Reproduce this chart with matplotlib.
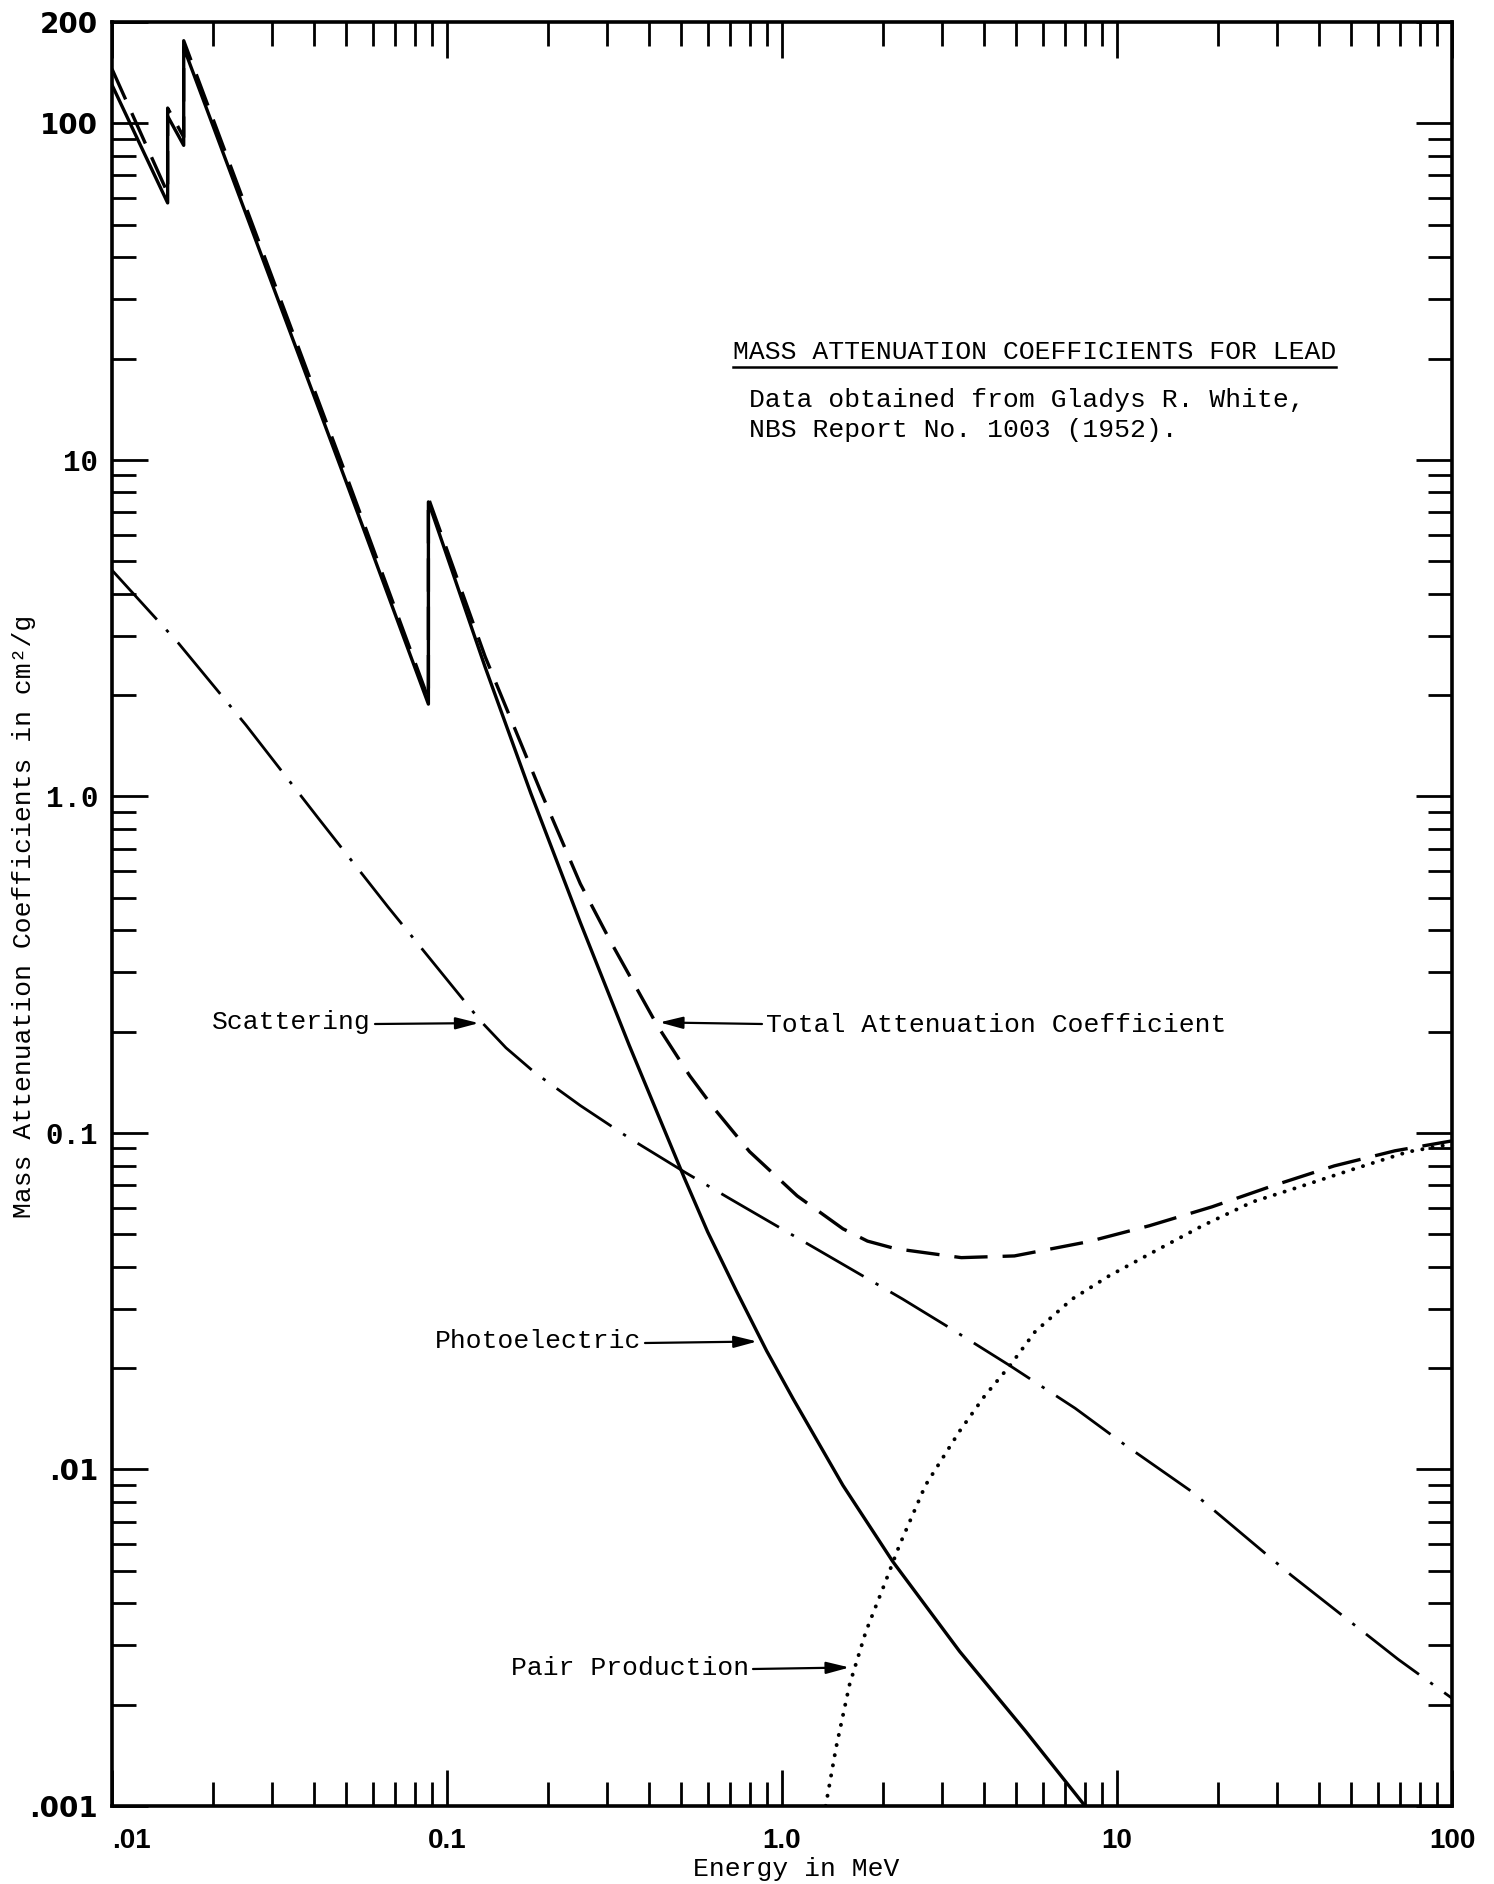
import matplotlib
matplotlib.use("Agg")
import matplotlib.pyplot as plt
from matplotlib.ticker import LogLocator, NullFormatter
from matplotlib.lines import Line2D

# ---------------- data ----------------
photo_E = [0.01, 0.01466, 0.01466, 0.01637, 0.01637, 0.05, 0.088, 0.088,
           0.13, 0.178, 0.25, 0.35, 0.511, 0.6, 0.73, 0.9, 1.08, 1.52, 2.14, 3.39, 5.33, 8.03]
photo_mu = [130, 58, 105, 86, 168, 8.6, 1.88, 7.5,
            2.42, 1.02, 0.422, 0.182, 0.0735, 0.0508, 0.034, 0.0225, 0.0162, 0.00897, 0.00533,
            0.00288, 0.00167, 0.001]

total_E = [0.01, 0.01466, 0.01466, 0.01637, 0.01637, 0.05, 0.088, 0.088,
           0.13, 0.19, 0.25, 0.308, 0.425, 0.53, 0.628, 0.8, 1.11, 1.52, 1.8, 2.18, 3.43, 4.94,
           8.2, 12.5, 19.2, 29.1, 44.5, 67.6, 100]
total_mu = [145, 62, 111, 91, 176, 9.0, 1.95, 7.7,
            2.6, 1.04, 0.55, 0.37, 0.208, 0.148, 0.118, 0.088, 0.065, 0.0519, 0.0477, 0.0453,
            0.0426, 0.0431, 0.0475, 0.0530, 0.0603, 0.0696, 0.0798, 0.0885, 0.0947]

scatter_E = [0.01, 0.0158, 0.0251, 0.0413, 0.0667, 0.1007, 0.126, 0.15, 0.183, 0.25, 0.353,
             0.511, 0.70, 1.60, 2.29, 3.08, 4.77, 7.50, 10.6, 16.7, 33.2, 69, 100]
scatter_mu = [4.7, 2.85, 1.63, 0.861, 0.469, 0.283, 0.215, 0.179, 0.151, 0.1206, 0.096,
              0.0766, 0.0637, 0.0395, 0.0321, 0.0268, 0.0204, 0.0152, 0.0118, 0.0086, 0.00484,
              0.00273, 0.00209]

pair_E = [1.35, 1.45, 1.59, 1.78, 2.0, 2.24, 2.68, 3.39, 4.02, 4.80, 5.70, 7.35, 9.47, 12.9,
          18.0, 25.4, 33.6, 51.1, 74, 100]
pair_mu = [0.001, 0.00149, 0.00229, 0.0033, 0.00443, 0.00594, 0.00897, 0.0130, 0.0165, 0.0204,
           0.0257, 0.0321, 0.0376, 0.0444, 0.0530, 0.0624, 0.0682, 0.0782, 0.0879, 0.0927]

x_ticks = [0.01, 0.1, 1, 10, 100]
x_labels = ['.01', '0.1', '1.0', '10', '100']
y_ticks = [0.001, 0.01, 0.1, 1, 10, 100, 200]
y_labels = ['.001', '.01', '0.1', '1.0', '10', '100', '200']

title_text = "MASS ATTENUATION COEFFICIENTS FOR LEAD"
source_lines = ["Data obtained from Gladys R. White,", "NBS Report No. 1003 (1952)."]

# ---------------- figure ----------------
W, H = 1494, 1884
DPI = 100
fig = plt.figure(figsize=(W / DPI, H / DPI), dpi=DPI, facecolor='white')

def fx(px):
    return px / W

def fy(py):
    return 1 - py / H

ax = fig.add_axes([fx(112), fy(1806), fx(1452) - fx(112), fy(22) - fy(1806)])
ax.set_xscale('log')
ax.set_yscale('log')
ax.set_xlim(0.01, 100)
ax.set_ylim(0.001, 200)

mono = ['Liberation Mono', 'DejaVu Sans Mono']

ax.plot(photo_E, photo_mu, color='black', lw=2.4, solid_joinstyle='round')
ax.plot(total_E, total_mu, color='black', lw=2.4, linestyle=(0, (10, 4.5)))
ax.plot(scatter_E, scatter_mu, color='black', lw=2.0, linestyle=(0, (24, 5, 1.2, 5)))
ax.plot(pair_E, pair_mu, color='black', lw=2.8, linestyle=(0, (0.05, 2.6)),
        dash_capstyle='round')

for s in ax.spines.values():
    s.set_linewidth(2.6)

ax.set_xticks(x_ticks, x_labels, fontfamily='Liberation Sans', fontweight='bold', fontsize=20)
ax.set_yticks(y_ticks, y_labels, fontfamily='DejaVu Sans', fontweight='bold', fontsize=20)
ax.xaxis.set_minor_locator(LogLocator(base=10, subs=range(2, 10), numticks=20))
ax.yaxis.set_minor_locator(LogLocator(base=10, subs=range(2, 10), numticks=20))
ax.xaxis.set_minor_formatter(NullFormatter())
ax.yaxis.set_minor_formatter(NullFormatter())
ax.tick_params(which='both', direction='in', top=True, right=True, color='black')
ax.tick_params(which='major', length=26, width=2.0)
ax.tick_params(which='minor', length=17, width=2.0)
ax.tick_params(axis='x', which='major', pad=16)
ax.tick_params(axis='y', which='major', pad=10)

ax.set_xlabel('Energy in MeV', fontfamily=mono, fontsize=19)
ax.xaxis.set_label_coords((796 - 112) / 1340, (1806 - 1869) / 1784)
ax.xaxis.label.set_va('center')
ax.set_ylabel('Mass Attenuation Coefficients in cm²/g', fontfamily=mono, fontsize=19)
ax.yaxis.set_label_coords((24 - 112) / 1340, (1806 - 916) / 1784)
ax.yaxis.label.set_va('center')

# title block
t = fig.text(fx(733), fy(352), title_text, fontfamily=mono, fontsize=19, ha='left', va='center')
fig.text(fx(749), fy(400), source_lines[0], fontfamily=mono, fontsize=19, ha='left', va='center')
fig.text(fx(749), fy(430), source_lines[1], fontfamily=mono, fontsize=19, ha='left', va='center')

# curve labels with arrows
arrow = dict(arrowstyle='-|>,head_length=0.7,head_width=0.18', color='black', lw=1.6,
             shrinkA=0, shrinkB=0, mutation_scale=20)
labels = [
    ("Scattering", 371, 1022, 'right', (0.1245, 0.212), 375, 1024),
    ("Total Attenuation Coefficient", 766, 1025, 'left', (0.431, 0.213), 762, 1024),
    ("Photoelectric", 641, 1341, 'right', (0.843, 0.024), 645, 1343),
    ("Pair Production", 749, 1668, 'right', (1.59, 0.00258), 753, 1669),
]
for txt, tx, ty, ha, tip, ax_px, ay_px in labels:
    fig.text(fx(tx), fy(ty), txt, fontfamily=mono, fontsize=19, ha=ha, va='center')
    ax.annotate('', xy=tip, xycoords='data', xytext=(fx(ax_px), fy(ay_px)),
                textcoords='figure fraction', arrowprops=arrow)

fig.canvas.draw()
# per-label font tweaks (typewriter digits for the middle decades)
for tick in ax.yaxis.get_major_ticks():
    if tick.label1.get_text() in ('10', '1.0', '0.1'):
        tick.label1.set_fontfamily(mono)
        tick.label1.set_fontsize(21)
ax.xaxis.get_major_ticks()[0].label1.set_horizontalalignment('left')

bb = t.get_window_extent()
fig.add_artist(Line2D([bb.x0, bb.x1], [bb.y0 - 3, bb.y0 - 3], transform=None,
                      color='black', lw=1.8))

fig.savefig('out.png', dpi=DPI, facecolor='white')
